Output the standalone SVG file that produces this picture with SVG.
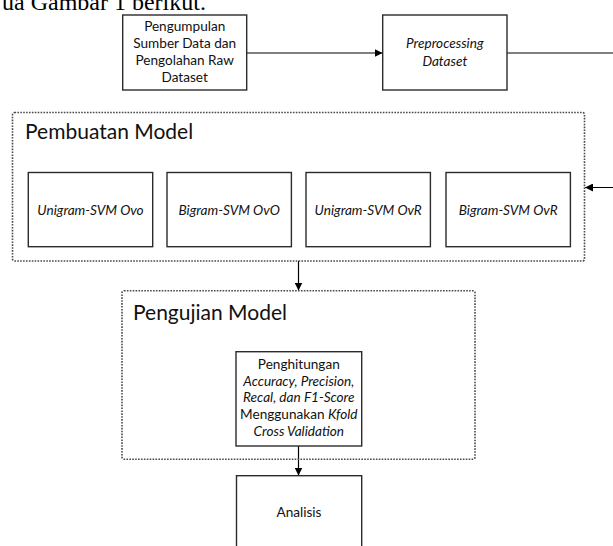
<svg xmlns="http://www.w3.org/2000/svg" width="613" height="546" viewBox="0 0 613 546">
<style>
.bg{fill:#fff}
.box{fill:#fff;stroke:#2b2b2b;stroke-width:1.4}
.grp{fill:none;stroke:#4a4a4a;stroke-width:1.6;stroke-dasharray:1.6 1.3}
.t{font-family:Lato,"Liberation Sans",sans-serif;font-size:13.6px;fill:#111;text-anchor:middle}
.i{font-style:italic}
.h{font-family:Lato,"Liberation Sans",sans-serif;font-size:21px;fill:#111}
.top{font-family:"Liberation Serif",serif;font-size:24px;fill:#000}
.c{fill:none;stroke:#000;stroke-width:1.2}
</style>
<defs>
<marker id="arr" viewBox="0 0 10 10" refX="10" refY="5" markerWidth="8" markerHeight="8" markerUnits="userSpaceOnUse" orient="auto">
<path d="M0,0 L10,5 L0,10 Z" fill="#000"/>
</marker>
</defs>
<rect class="bg" x="0" y="0" width="613" height="546"/>
<text class="top" x="2" y="10">ua Gambar 1 berikut.</text>

<g id="connectors">
<line class="c" x1="246.7" y1="53" x2="382.5" y2="53" marker-end="url(#arr)"/>
<path class="c" d="M507,53 H615 V187.5 H585" marker-end="url(#arr)"/>
<line class="c" x1="298.5" y1="261" x2="298.5" y2="290.5" marker-end="url(#arr)"/>
<line class="c" x1="298.5" y1="446" x2="298.5" y2="475.5" marker-end="url(#arr)"/>
</g>

<g id="pengumpulan">
<rect class="box" x="122.7" y="15" width="124" height="75"/>
<text class="t" x="184.7" y="31">Pengumpulan</text>
<text class="t" x="184.7" y="48">Sumber Data dan</text>
<text class="t" x="184.7" y="65">Pengolahan Raw</text>
<text class="t" x="184.7" y="82">Dataset</text>
</g>

<g id="preprocessing">
<rect class="box" x="382.7" y="15" width="124.3" height="75"/>
<text class="t i" x="444.8" y="47.5">Preprocessing</text>
<text class="t i" x="444.8" y="65.5">Dataset</text>
</g>

<g id="pembuatan-model">
<rect class="grp" x="12.5" y="112.5" width="572" height="148.5" rx="2"/>
<text class="h" x="25" y="139">Pembuatan Model</text>
</g>

<g id="unigram-ovo">
<rect class="box" x="28.3" y="172.5" width="124.4" height="74.2"/>
<text class="t i" x="90.5" y="215">Unigram-SVM Ovo</text>
</g>
<g id="bigram-ovo">
<rect class="box" x="167" y="172.5" width="124.4" height="74.2"/>
<text class="t i" x="229.2" y="215">Bigram-SVM OvO</text>
</g>
<g id="unigram-ovr">
<rect class="box" x="306" y="172.5" width="124.4" height="74.2"/>
<text class="t i" x="368.2" y="215">Unigram-SVM OvR</text>
</g>
<g id="bigram-ovr">
<rect class="box" x="446" y="172.5" width="124.4" height="74.2"/>
<text class="t i" x="508.2" y="215">Bigram-SVM OvR</text>
</g>

<g id="pengujian-model">
<rect class="grp" x="122" y="290.7" width="353" height="168.6" rx="2"/>
<text class="h" x="133" y="320">Pengujian Model</text>
</g>

<g id="penghitungan">
<rect class="box" x="236" y="351.7" width="125.7" height="94.3"/>
<text class="t" x="298.8" y="369">Penghitungan</text>
<text class="t i" x="298.8" y="385.7">Accuracy, Precision,</text>
<text class="t i" x="298.8" y="402.4">Recal, dan F1-Score</text>
<text class="t" x="298.8" y="419.1">Menggunakan <tspan class="i">Kfold</tspan></text>
<text class="t i" x="298.8" y="435.8">Cross Validation</text>
</g>

<g id="analisis">
<rect class="box" x="236.5" y="475.7" width="125.2" height="90"/>
<text class="t" x="299" y="516.5">Analisis</text>
</g>
</svg>
